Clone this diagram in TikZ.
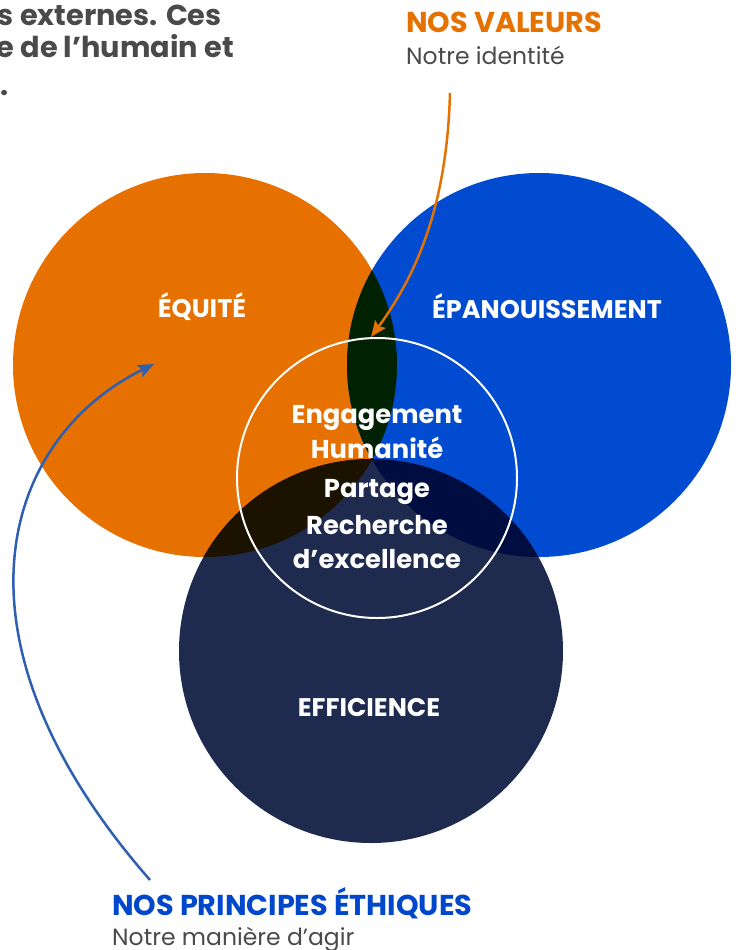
\documentclass[tikz,border=0pt]{standalone}
\usepackage{fontspec}
\setmainfont{Poppins}
\usetikzlibrary{arrows.meta}
\definecolor{orangeC}{HTML}{E67000}
\definecolor{blueC}{HTML}{004BCF}
\definecolor{navyC}{HTML}{1E2A4E}
\definecolor{obC}{HTML}{002200}
\definecolor{onC}{HTML}{1B1200}
\definecolor{bnC}{HTML}{000D40}
\definecolor{grayT}{HTML}{4A4A4A}
\definecolor{titleO}{HTML}{E57200}
\definecolor{titleB}{HTML}{0047CC}
\definecolor{arrowB}{HTML}{2E5FB0}
\tikzset{
  bigcircle/.style={circle, inner sep=0pt, minimum size=384pt},
  lbl/.style={text=white, font=\bfseries\fontsize{25.5}{30}\selectfont, inner sep=0pt, anchor=base},
  core/.style={text=white, font=\bfseries\fontsize{25.8}{30}\selectfont, inner sep=0pt, anchor=base},
  ttl/.style={font=\bfseries\fontsize{28.7}{33}\selectfont, inner sep=0pt, anchor=base west},
  sub/.style={text=grayT, font=\fontsize{23.5}{28}\selectfont, inner sep=0pt, anchor=base west},
  intro/.style={text=grayT, font=\bfseries\fontsize{28.8}{33}\selectfont, inner sep=0pt, anchor=base east},
  conn/.style={line width=2.5pt, -{Stealth[length=16pt, width=13pt, inset=3pt]}}
}
\begin{document}
\begin{tikzpicture}[x=1pt, y=-1pt]
\useasboundingbox (0,0) rectangle (738,950);
\clip (0,0) rectangle (738,950);
% intro text (cut off at the picture's edge, as in the reference)
\node[intro] (i1) at (222,26) {s externes. Ces};
\node[intro] (i2) at (234,57) {e de l’humain et};
\node[intro] (i3) at (9,95) {e.};
% circles
\node[bigcircle, fill=orangeC] (co) at (205,365) {};
\node[bigcircle, fill=blueC] (cb) at (539,365) {};
\node[bigcircle, fill=navyC] (cn) at (371,651) {};
% overlaps
\begin{scope}
  \clip (205,365) circle[radius=192pt];
  \fill[obC] (539,365) circle[radius=192pt];
  \fill[onC] (371,651) circle[radius=192pt];
\end{scope}
\begin{scope}
  \clip (539,365) circle[radius=192pt];
  \fill[bnC] (371,651) circle[radius=192pt];
\end{scope}
% white circle
\node[circle, inner sep=0pt, minimum size=280pt, draw=white, line width=2pt] (cw) at (377,478) {};
% labels
\node[lbl] (equite) at (202,317) {ÉQUITÉ};
\node[lbl] (epan) at (547,318) {ÉPANOUISSEMENT};
\node[lbl] (effi) at (369,716) {EFFICIENCE};
\node[core] (v1) at (377,423) {Engagement};
\node[core] (v2) at (377,458) {Humanité};
\node[core] (v3) at (377,497) {Partage};
\node[core] (v4) at (377,534) {Recherche};
\node[core] (v5) at (377,568) {d’excellence};
% titles
\node[ttl, text=titleO] (valT) at (406,33) {NOS VALEURS};
\node[sub] (valS) at (406,65) {Notre identité};
\node[ttl, text=titleB] (priT) at (112,915) {NOS PRINCIPES ÉTHIQUES};
\node[sub] (priS) at (112,945) {Notre manière d’agir};
% arrows
\coordinate (vaStart) at (450,93);
\coordinate (vaTip) at (371,337);
\coordinate (prStart) at (150,880);
\coordinate (prTip) at (154,364);
\draw[conn, titleO] (vaStart) .. controls (447,200) and (420,270) .. (vaTip);
\draw[conn, arrowB] (prStart) .. controls (-60,640) and (0,440) .. (prTip);
\end{tikzpicture}
\end{document}
